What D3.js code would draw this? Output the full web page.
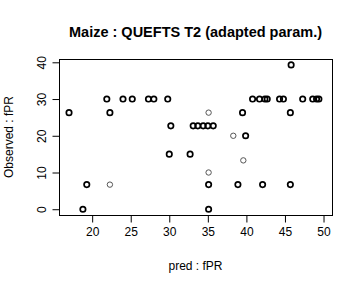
<!DOCTYPE html>
<html>
<head>
<meta charset="utf-8">
<script src="https://cdn.jsdelivr.net/npm/d3@7"></script>
<style>
  body { margin: 0; background: #fff; }
  text { font-family: "Liberation Sans", Arial, sans-serif; fill: #000; }
</style>
</head>
<body>
<div id="chart"></div>
<script>
// predicted vs observed fPR (dark points overplot, light points single)
const predDark = [17.0, 21.9, 22.3, 24.0, 25.2, 27.3, 28.0, 29.8, 30.2, 30.0, 32.7, 19.3, 18.8,
  33.1, 33.7, 34.4, 35.0, 35.7, 45.8, 40.8, 41.7, 42.4, 42.7, 44.3, 44.8, 47.3, 48.6, 49.1, 49.4,
  39.5, 45.7, 39.9, 35.1, 38.9, 42.1, 45.7, 35.1];
const obsDark = [26.3, 30, 26.3, 30, 30, 30, 30, 30, 22.7, 15, 15, 6.7, 0,
  22.7, 22.7, 22.7, 22.7, 22.7, 39.3, 30, 30, 30, 30, 30, 30, 30, 30, 30, 30,
  26.3, 26.3, 20, 6.7, 6.7, 6.7, 6.7, 0];
const predLight = [22.3, 35.1, 38.3, 39.6, 35.1];
const obsLight = [6.7, 26.3, 20, 13.3, 10];

const xTicks = [20, 25, 30, 35, 40, 45, 50];
const yTicks = [0, 10, 20, 30, 40];

const width = 360, height = 288;
const margin = {top: 59, right: 28, bottom: 73, left: 59};

const svg = d3.select("#chart").append("svg")
  .attr("width", width)
  .attr("height", height);

const x = d3.scaleLinear().domain([15.7, 51.1]).range([margin.left, width - margin.right]);
const y = d3.scaleLinear().domain([-1.57, 40.9]).range([height - margin.bottom, margin.top]);

// axes
const xAxis = svg.append("g")
  .attr("transform", "translate(0," + (height - margin.bottom + 0.5) + ")")
  .call(d3.axisBottom(x).tickValues(xTicks).tickSize(7).tickPadding(5));
const yAxis = svg.append("g")
  .attr("transform", "translate(" + (margin.left + 0.5) + ",0)")
  .call(d3.axisLeft(y).tickValues(yTicks).tickSize(7).tickPadding(5));

[xAxis, yAxis].forEach(function (g) {
  g.selectAll("text").style("font-size", "12px").style("font-family", "Liberation Sans, Arial, sans-serif").attr("fill", "#000");
  g.selectAll("line").attr("stroke", "#000");
});
xAxis.select(".domain").remove();
yAxis.select(".domain").attr("d", "M0," + y(0) + "V" + y(40)).attr("stroke", "#000");
// rotated y tick labels, like R's default
yAxis.selectAll(".tick text")
  .attr("transform", "rotate(-90) translate(0,-12)")
  .attr("x", 0).attr("y", 0).attr("dy", "-0.1em")
  .attr("text-anchor", "middle");

// box
svg.append("rect")
  .attr("x", margin.left + 0.5)
  .attr("y", margin.top + 0.5)
  .attr("width", width - margin.left - margin.right)
  .attr("height", height - margin.top - margin.bottom)
  .attr("fill", "none")
  .attr("stroke", "#000");

// points
svg.append("g").selectAll("circle")
  .data(predDark.map((p, i) => [p, obsDark[i]]))
  .enter().append("circle")
  .attr("cx", d => x(d[0]))
  .attr("cy", d => y(d[1]))
  .attr("r", 2.7)
  .attr("fill", "none")
  .attr("stroke", "#000")
  .attr("stroke-width", 1.7);

svg.append("g").selectAll("circle")
  .data(predLight.map((p, i) => [p, obsLight[i]]))
  .enter().append("circle")
  .attr("cx", d => x(d[0]))
  .attr("cy", d => y(d[1]))
  .attr("r", 2.7)
  .attr("fill", "none")
  .attr("stroke", "#555")
  .attr("stroke-width", 1);

// titles
svg.append("text")
  .attr("x", (margin.left + width - margin.right) / 2)
  .attr("y", 37)
  .attr("text-anchor", "middle")
  .style("font-size", "14.5px")
  .style("font-weight", "bold")
  .text("Maize : QUEFTS T2 (adapted param.)");

svg.append("text")
  .attr("x", (margin.left + width - margin.right) / 2)
  .attr("y", 270)
  .attr("text-anchor", "middle")
  .style("font-size", "12px")
  .text("pred : fPR");

svg.append("text")
  .attr("transform", "translate(13," + ((margin.top + height - margin.bottom) / 2) + ") rotate(-90)")
  .attr("text-anchor", "middle")
  .style("font-size", "12px")
  .text("Observed : fPR");
</script>
</body>
</html>
